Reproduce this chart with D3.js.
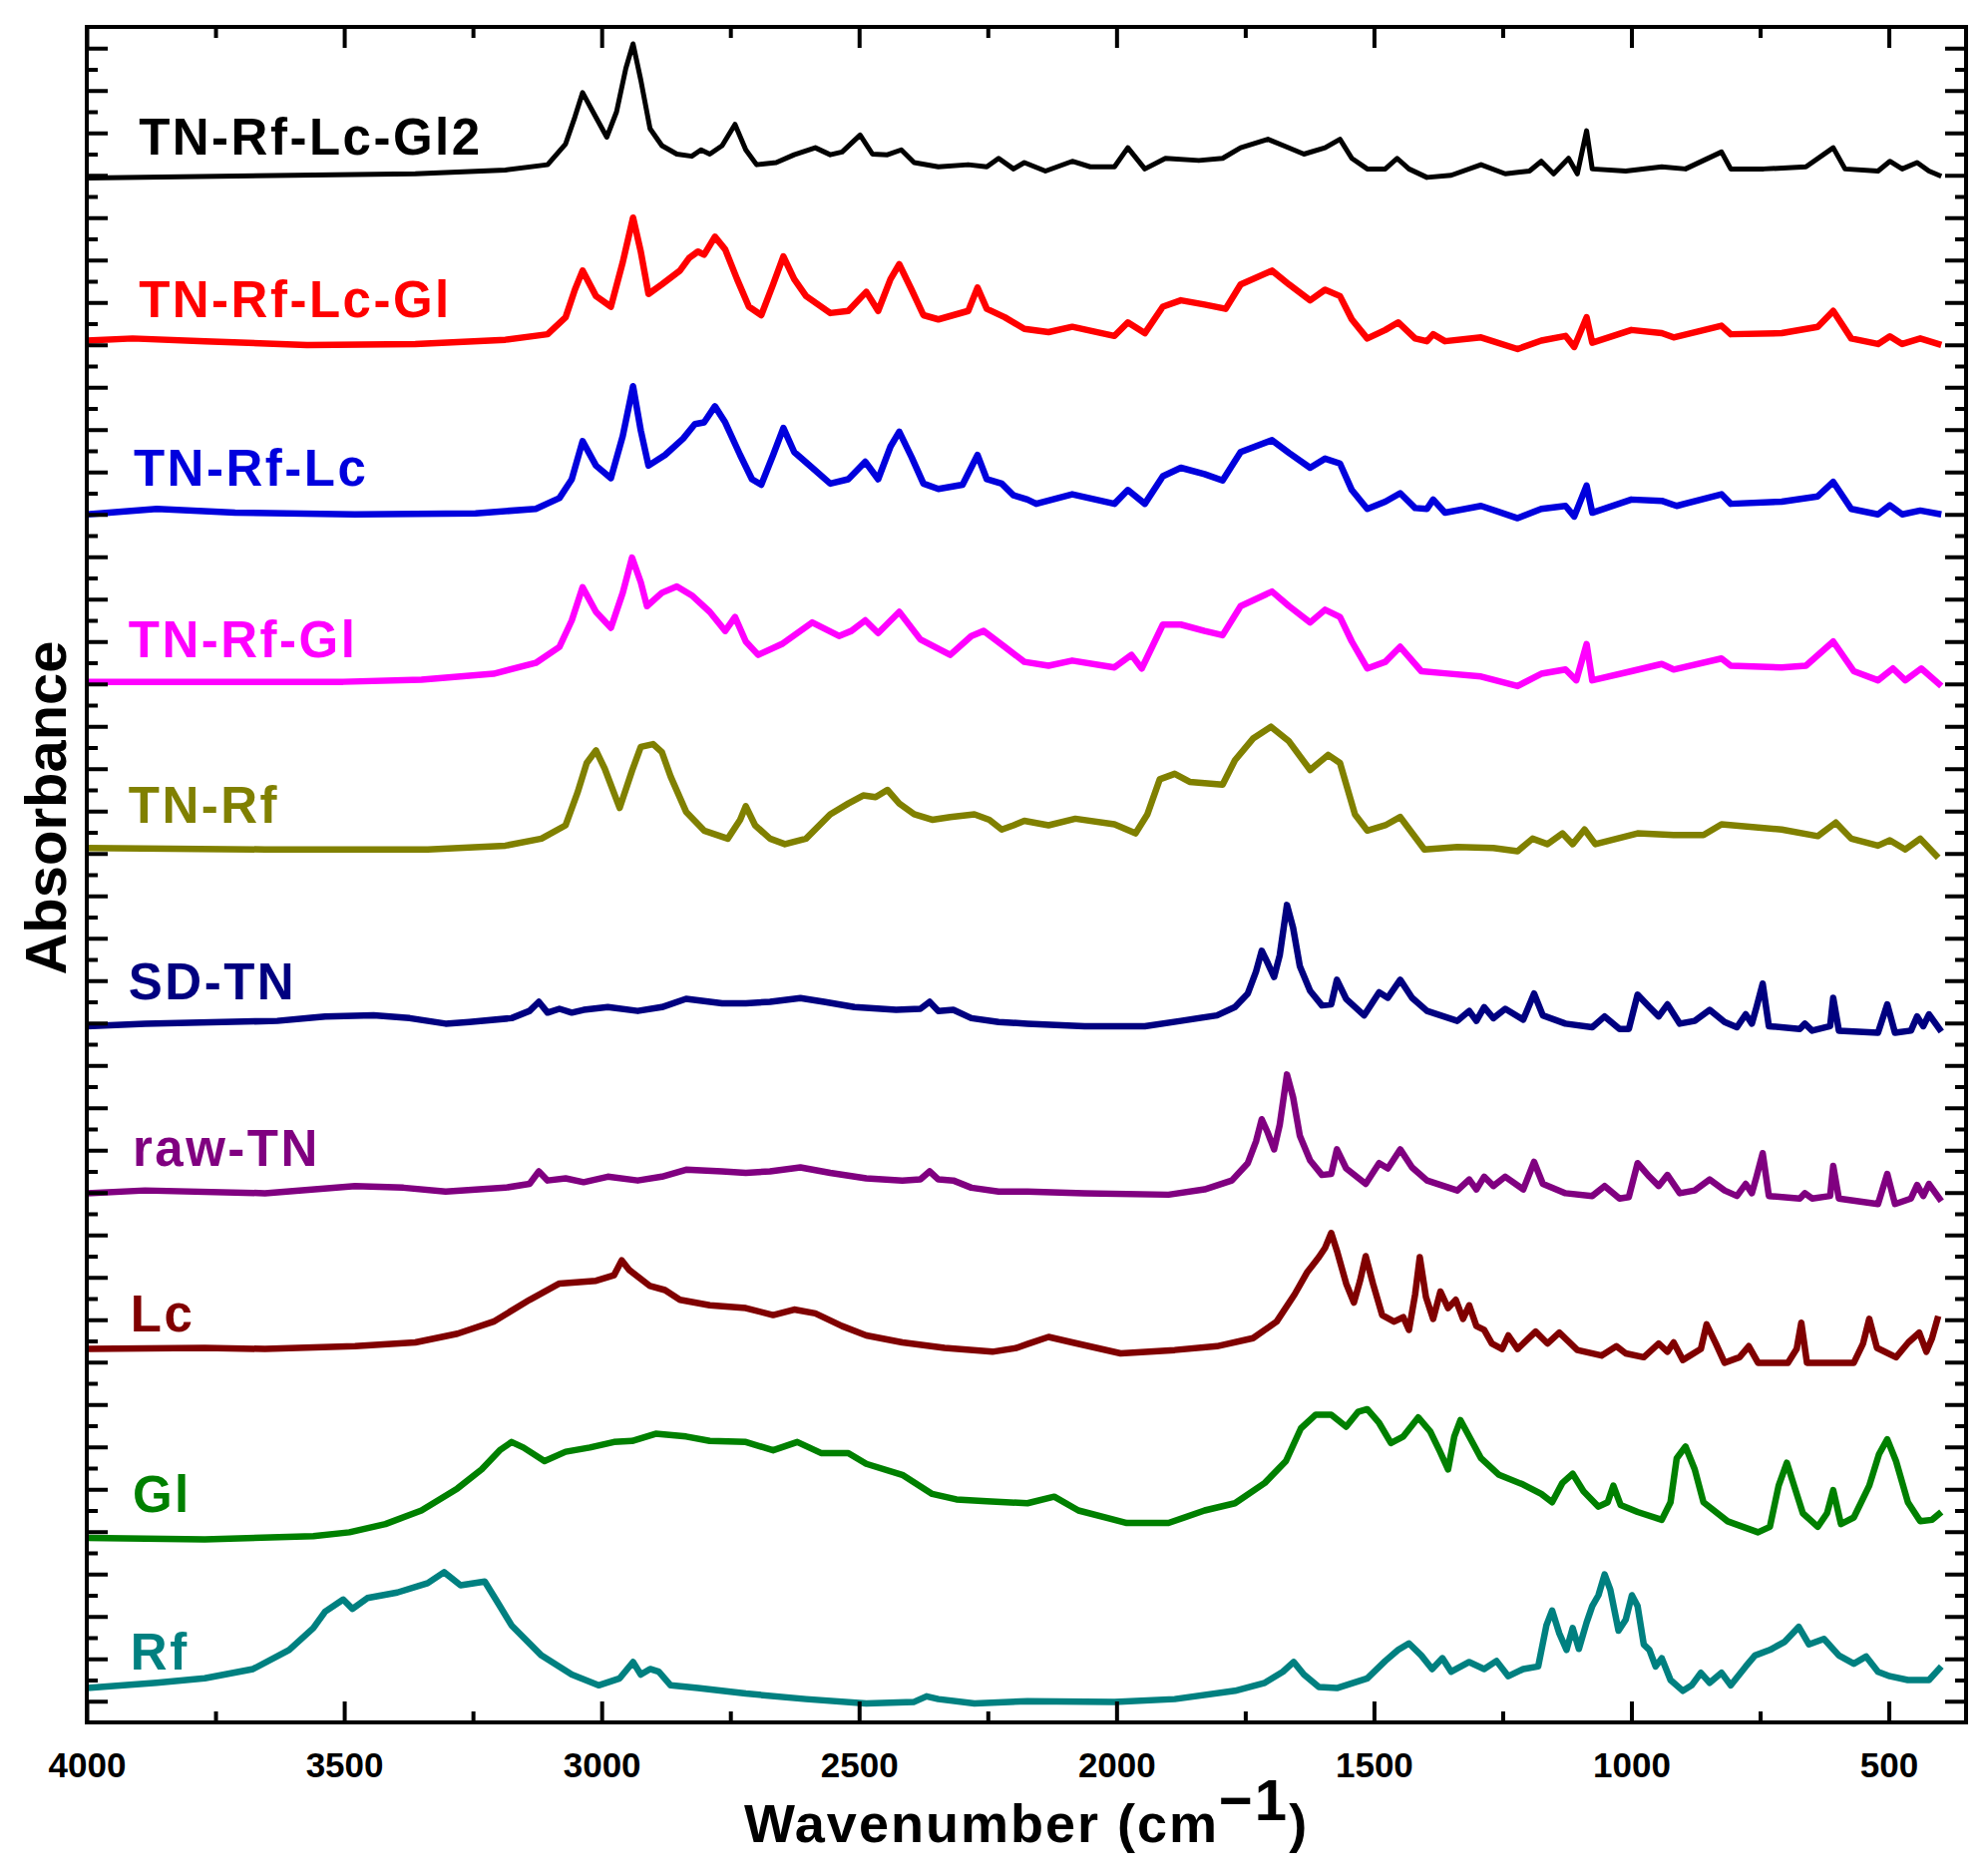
<!DOCTYPE html>
<html>
<head>
<meta charset="utf-8">
<script src="https://cdn.jsdelivr.net/npm/d3@7/dist/d3.min.js"></script>
<style>
  body { margin: 0; background: #fff; }
  text { font-family: "Liberation Sans", Arial, sans-serif; }
</style>
</head>
<body>
<div id="chart-container"></div>
<script>
// Spectra: [wavenumber, absorbance incl. stack offset]

const tnRfLcGl2 = [
  [4000,72.87],[3362,73.07],[3187,73.25],[3105,73.5],[3070,74.48],[3052,75.75],[3037,76.9],[3017,76.0],
  [2990,74.8],[2971,76.0],[2953,78.05],[2939,79.2],[2924,77.5],[2906,75.2],[2883,74.4],[2854,74.0],
  [2825,73.9],[2807,74.2],[2790,74.0],[2766,74.4],[2741,75.4],[2720,74.2],[2699,73.5],[2661,73.6],
  [2626,73.97],[2585,74.3],[2556,73.97],[2533,74.1],[2498,74.9],[2474,74.0],[2445,73.97],[2418,74.2],
  [2393,73.6],[2346,73.4],[2288,73.5],[2252,73.4],[2229,73.8],[2200,73.3],[2179,73.6],[2138,73.2],
  [2086,73.66],[2051,73.4],[2004,73.4],[1978,74.3],[1945,73.3],[1905,73.8],[1840,73.7],[1794,73.8],
  [1759,74.3],[1706,74.7],[1671,74.35],[1636,74.0],[1595,74.3],[1566,74.7],[1543,73.8],[1513,73.3],
  [1478,73.3],[1455,73.8],[1432,73.3],[1397,72.9],[1350,73.0],[1292,73.5],[1245,73.07],[1198,73.2],
  [1175,73.66],[1151,73.07],[1122,73.8],[1105,73.07],[1087,75.1],[1076,73.3],[1011,73.2],[941,73.4],
  [895,73.3],[825,74.1],[807,73.3],[743,73.3],[661,73.4],[608,74.3],[585,73.3],[521,73.2],
  [498,73.66],[474,73.3],[445,73.6],[422,73.2],[398,72.95]
];

const tnRfLcGl = [
  [4000,65.2],[3911,65.3],[3770,65.17],[3572,64.99],[3362,65.04],[3187,65.24],[3105,65.5],[3070,66.3],
  [3052,67.6],[3037,68.5],[3011,67.3],[2982,66.8],[2959,68.9],[2939,71.0],[2924,69.4],[2909,67.4],
  [2883,67.85],[2848,68.5],[2830,69.1],[2813,69.4],[2801,69.25],[2780,70.1],[2760,69.5],[2737,68.1],
  [2714,66.8],[2690,66.4],[2667,67.85],[2647,69.17],[2626,68.1],[2603,67.3],[2556,66.5],[2521,66.6],
  [2486,67.5],[2463,66.6],[2439,68.1],[2422,68.8],[2398,67.6],[2375,66.4],[2346,66.2],[2317,66.4],
  [2288,66.6],[2270,67.7],[2252,66.7],[2217,66.3],[2179,65.75],[2132,65.6],[2086,65.85],[2004,65.42],
  [1978,66.06],[1945,65.55],[1910,66.8],[1875,67.1],[1829,66.9],[1788,66.7],[1759,67.85],[1698,68.5],
  [1665,67.85],[1624,67.1],[1595,67.6],[1566,67.3],[1543,66.2],[1513,65.3],[1478,65.7],[1453,66.06],
  [1420,65.3],[1397,65.17],[1385,65.5],[1362,65.17],[1292,65.35],[1221,64.8],[1175,65.2],[1128,65.42],
  [1111,64.9],[1087,66.3],[1076,65.1],[1000,65.7],[941,65.55],[918,65.35],[825,65.9],[807,65.5],
  [708,65.55],[638,65.85],[608,66.6],[573,65.3],[521,65.04],[498,65.4],[474,65.04],[439,65.3],[398,64.99]
];

const tnRfLc = [
  [4000,57.0],[3864,57.26],[3712,57.08],[3479,57.0],[3245,57.05],[3128,57.26],[3082,57.77],[3058,58.66],
  [3037,60.45],[3011,59.3],[2982,58.71],[2959,60.7],[2939,63.05],[2924,60.96],[2909,59.3],[2877,59.8],
  [2842,60.57],[2819,61.26],[2801,61.34],[2780,62.1],[2760,61.34],[2731,59.8],[2708,58.66],[2690,58.4],
  [2667,59.8],[2647,61.08],[2626,59.94],[2591,59.2],[2556,58.45],[2521,58.66],[2488,59.48],[2463,58.66],
  [2439,60.2],[2422,60.9],[2398,59.7],[2375,58.45],[2346,58.2],[2299,58.4],[2270,59.8],[2252,58.66],
  [2223,58.45],[2200,57.9],[2173,57.7],[2156,57.5],[2086,57.95],[2004,57.5],[1978,58.15],[1945,57.5],
  [1910,58.8],[1875,59.2],[1829,58.9],[1794,58.6],[1759,59.94],[1698,60.5],[1665,59.9],[1624,59.2],
  [1595,59.63],[1566,59.4],[1543,58.15],[1513,57.26],[1478,57.6],[1449,58.0],[1420,57.3],[1397,57.26],
  [1385,57.7],[1362,57.08],[1292,57.4],[1221,56.82],[1175,57.26],[1128,57.4],[1111,56.9],[1087,58.36],
  [1076,57.08],[1000,57.7],[941,57.64],[912,57.4],[825,57.95],[807,57.5],[708,57.6],[638,57.85],
  [608,58.53],[573,57.26],[521,57.0],[498,57.43],[474,57.0],[439,57.18],[398,57.0]
];

const tnRfGl = [
  [4000,49.1],[3771,49.1],[3502,49.1],[3350,49.2],[3210,49.48],[3128,49.99],[3082,50.75],[3058,52.0],
  [3037,53.56],[3011,52.4],[2982,51.65],[2959,53.3],[2941,54.96],[2924,53.8],[2912,52.67],[2883,53.3],
  [2854,53.6],[2825,53.18],[2790,52.4],[2760,51.5],[2741,52.16],[2720,51.0],[2696,50.37],[2650,50.88],
  [2591,51.9],[2539,51.26],[2515,51.5],[2488,52.0],[2463,51.4],[2422,52.4],[2381,51.1],[2323,50.37],
  [2282,51.26],[2258,51.5],[2217,50.75],[2179,50.04],[2132,49.86],[2086,50.1],[2004,49.78],[1971,50.37],
  [1951,49.73],[1910,51.8],[1875,51.8],[1829,51.5],[1794,51.3],[1759,52.67],[1698,53.36],[1665,52.67],
  [1624,51.9],[1595,52.5],[1566,52.16],[1543,51.0],[1513,49.73],[1478,50.04],[1449,50.75],[1408,49.6],
  [1362,49.5],[1292,49.35],[1221,48.9],[1175,49.48],[1128,49.68],[1107,49.17],[1087,50.88],[1076,49.17],
  [1000,49.6],[941,49.94],[918,49.68],[825,50.2],[807,49.86],[708,49.78],[661,49.86],[608,51.0],
  [568,49.6],[521,49.17],[492,49.73],[468,49.17],[437,49.73],[398,48.9]
];

const tnRf = [
  [4000,41.26],[3654,41.19],[3338,41.19],[3187,41.37],[3117,41.7],[3070,42.33],[3047,43.86],[3029,45.27],
  [3011,45.86],[2994,45.0],[2965,43.15],[2941,44.9],[2924,46.03],[2900,46.16],[2883,45.78],[2866,44.63],
  [2836,42.97],[2801,42.08],[2755,41.7],[2731,42.59],[2720,43.23],[2702,42.33],[2673,41.7],[2644,41.44],
  [2603,41.7],[2556,42.85],[2521,43.36],[2492,43.74],[2468,43.66],[2445,44.0],[2422,43.36],[2393,42.85],
  [2358,42.59],[2323,42.72],[2276,42.85],[2247,42.59],[2223,42.13],[2200,42.33],[2179,42.54],[2132,42.33],
  [2080,42.64],[2004,42.38],[1963,41.95],[1940,42.85],[1916,44.5],[1887,44.76],[1858,44.38],[1794,44.25],
  [1770,45.4],[1735,46.42],[1700,46.98],[1665,46.29],[1624,44.94],[1589,45.65],[1566,45.27],[1537,42.85],
  [1513,42.08],[1478,42.33],[1449,42.72],[1402,41.19],[1338,41.31],[1268,41.26],[1221,41.11],[1192,41.7],
  [1163,41.44],[1134,41.95],[1114,41.44],[1091,42.13],[1070,41.44],[988,41.95],[918,41.87],[860,41.87],
  [825,42.38],[708,42.13],[638,41.82],[603,42.46],[573,41.7],[521,41.37],[498,41.62],[468,41.19],
  [439,41.7],[404,40.8]
];

const sdTn = [
  [4000,32.85],[3887,32.97],[3630,33.1],[3537,33.31],[3443,33.36],[3373,33.23],[3303,32.97],[3257,33.05],
  [3175,33.23],[3140,33.57],[3122,34.0],[3105,33.49],[3082,33.67],[3058,33.49],[3035,33.62],[2988,33.75],
  [2930,33.57],[2883,33.75],[2836,34.14],[2766,33.93],[2720,33.93],[2673,34.0],[2614,34.18],[2568,34.0],
  [2509,33.75],[2428,33.62],[2381,33.67],[2363,34.0],[2346,33.57],[2317,33.62],[2282,33.23],[2229,33.05],
  [2173,32.97],[2062,32.85],[1945,32.85],[1875,33.1],[1805,33.36],[1770,33.75],[1745,34.39],[1729,35.43],
  [1718,36.41],[1706,35.81],[1694,35.17],[1683,36.2],[1669,38.57],[1657,37.49],[1644,35.68],[1624,34.52],
  [1601,33.83],[1583,33.88],[1572,35.04],[1554,34.14],[1519,33.36],[1490,34.45],[1473,34.19],[1449,35.04],
  [1426,34.19],[1397,33.57],[1338,33.1],[1315,33.57],[1301,33.1],[1286,33.75],[1268,33.23],[1245,33.67],
  [1210,33.16],[1189,34.39],[1172,33.36],[1128,32.97],[1076,32.8],[1052,33.31],[1023,32.72],[1005,32.72],
  [988,34.34],[965,33.75],[947,33.31],[930,33.88],[906,32.97],[877,33.1],[848,33.62],[819,33.05],
  [795,32.8],[778,33.41],[766,32.97],[757,33.75],[745,34.86],[733,32.85],[673,32.72],[663,32.97],
  [649,32.64],[614,32.85],[608,34.19],[597,32.64],[521,32.54],[503,33.88],[488,32.54],[457,32.64],
  [445,33.31],[433,32.85],[422,33.41],[398,32.59]
];

const rawTn = [
  [4000,24.97],[3887,25.1],[3654,24.97],[3479,25.31],[3385,25.23],[3303,25.05],[3187,25.23],[3140,25.41],
  [3122,26.0],[3105,25.57],[3070,25.67],[3035,25.49],[2988,25.75],[2930,25.57],[2883,25.75],[2836,26.08],
  [2766,26.0],[2720,25.93],[2673,26.0],[2614,26.19],[2556,25.93],[2486,25.67],[2416,25.57],[2381,25.62],
  [2363,26.0],[2346,25.62],[2317,25.57],[2282,25.23],[2229,25.05],[2173,25.05],[2062,24.97],[1899,24.9],
  [1829,25.15],[1776,25.57],[1745,26.39],[1729,27.42],[1718,28.46],[1706,27.81],[1694,27.04],[1683,28.2],
  [1669,30.57],[1657,29.49],[1644,27.68],[1624,26.52],[1601,25.83],[1583,25.88],[1572,27.04],[1554,26.14],
  [1516,25.41],[1490,26.39],[1473,26.14],[1449,27.04],[1426,26.19],[1397,25.57],[1338,25.1],[1315,25.62],
  [1301,25.15],[1286,25.75],[1268,25.31],[1245,25.75],[1210,25.15],[1189,26.45],[1172,25.41],[1128,24.97],
  [1076,24.84],[1052,25.31],[1023,24.72],[1005,24.79],[988,26.39],[965,25.75],[947,25.31],[930,25.83],
  [906,24.97],[877,25.1],[848,25.62],[819,25.1],[795,24.84],[778,25.41],[766,24.97],[757,25.75],
  [745,26.86],[733,24.84],[673,24.72],[663,24.97],[649,24.72],[614,24.84],[608,26.26],[597,24.72],
  [521,24.46],[503,25.88],[488,24.46],[457,24.72],[445,25.36],[433,24.84],[422,25.41],[398,24.59]
];

const lc = [
  [4000,17.62],[3771,17.67],[3654,17.62],[3479,17.75],[3362,17.93],[3280,18.34],[3210,18.91],[3140,19.94],
  [3082,20.71],[3011,20.84],[2976,21.1],[2961,21.8],[2947,21.36],[2906,20.59],[2877,20.4],[2848,19.94],
  [2790,19.68],[2720,19.55],[2667,19.22],[2626,19.48],[2585,19.3],[2533,18.7],[2486,18.26],[2416,17.93],
  [2334,17.67],[2241,17.49],[2194,17.67],[2173,17.85],[2132,18.19],[2086,17.93],[1992,17.41],[1887,17.57],
  [1805,17.75],[1735,18.13],[1689,18.91],[1654,20.2],[1630,21.23],[1607,21.95],[1595,22.39],[1583,23.09],
  [1572,22.26],[1554,20.71],[1539,19.81],[1527,20.84],[1516,22.0],[1502,20.71],[1484,19.22],[1461,18.91],
  [1443,19.12],[1432,18.52],[1420,20.2],[1411,21.95],[1399,20.07],[1385,19.04],[1371,20.33],[1356,19.55],
  [1341,19.94],[1327,19.04],[1315,19.68],[1301,18.7],[1286,18.52],[1271,17.88],[1251,17.62],[1239,18.26],
  [1221,17.62],[1186,18.44],[1163,17.88],[1140,18.39],[1105,17.57],[1058,17.31],[1029,17.75],[1011,17.41],
  [976,17.23],[947,17.88],[930,17.49],[918,17.93],[900,17.1],[865,17.62],[854,18.78],[836,17.88],
  [819,16.97],[790,17.23],[772,17.75],[754,16.97],[696,16.97],[679,17.62],[670,18.86],[659,16.97],
  [568,16.97],[550,17.88],[538,19.04],[523,17.67],[486,17.23],[462,17.93],[441,18.39],[427,17.49],
  [416,18.13],[404,19.17]
];

const gl = [
  [4000,8.71],[3771,8.64],[3560,8.79],[3490,8.97],[3420,9.36],[3350,10.0],[3280,11.04],[3233,11.94],
  [3198,12.84],[3175,13.23],[3152,12.97],[3111,12.33],[3070,12.77],[3023,12.97],[2976,13.23],[2941,13.28],
  [2895,13.62],[2836,13.49],[2790,13.28],[2720,13.23],[2667,12.84],[2620,13.23],[2574,12.71],[2521,12.71],
  [2486,12.2],[2416,11.68],[2358,10.78],[2311,10.52],[2252,10.44],[2173,10.34],[2121,10.65],[2074,10.0],
  [1980,9.41],[1899,9.41],[1829,10.0],[1770,10.34],[1712,11.3],[1671,12.33],[1642,13.87],[1613,14.52],
  [1583,14.52],[1554,13.95],[1531,14.65],[1513,14.78],[1490,14.13],[1467,13.18],[1443,13.49],[1414,14.39],
  [1391,13.74],[1373,12.84],[1356,11.94],[1344,13.49],[1332,14.26],[1315,13.49],[1292,12.46],[1257,11.68],
  [1210,11.22],[1175,10.78],[1154,10.39],[1134,11.3],[1114,11.73],[1093,10.91],[1064,10.18],[1046,10.39],
  [1035,11.17],[1021,10.26],[988,9.93],[941,9.56],[924,10.39],[912,12.46],[895,13.02],[877,11.94],
  [860,10.39],[813,9.49],[754,8.97],[731,9.23],[714,11.17],[698,12.25],[684,11.17],[667,9.87],
  [638,9.23],[620,9.87],[608,10.96],[593,9.36],[568,9.67],[538,11.17],[519,12.66],[503,13.36],
  [486,12.33],[463,10.39],[439,9.49],[416,9.56],[398,9.93]
];

const rf = [
  [4000,1.62],[3864,1.87],[3771,2.08],[3677,2.52],[3607,3.42],[3560,4.45],[3537,5.23],[3502,5.8],
  [3484,5.36],[3455,5.87],[3397,6.13],[3338,6.57],[3306,7.09],[3274,6.47],[3227,6.65],[3204,5.74],
  [3175,4.58],[3117,3.16],[3058,2.26],[3006,1.75],[2965,2.08],[2939,2.85],[2924,2.26],[2906,2.52],
  [2889,2.39],[2866,1.75],[2813,1.62],[2720,1.36],[2603,1.1],[2486,0.89],[2393,0.97],[2369,1.23],
  [2346,1.1],[2276,0.89],[2173,1.0],[2004,0.97],[1887,1.1],[1770,1.49],[1712,1.87],[1677,2.39],
  [1656,2.85],[1636,2.26],[1607,1.67],[1572,1.62],[1513,2.08],[1478,2.9],[1453,3.42],[1432,3.73],
  [1408,3.16],[1387,2.52],[1367,3.03],[1350,2.39],[1315,2.85],[1286,2.52],[1262,2.9],[1239,2.18],
  [1210,2.52],[1181,2.64],[1165,4.58],[1154,5.28],[1140,4.2],[1126,3.42],[1114,4.45],[1102,3.47],
  [1087,4.71],[1076,5.49],[1064,6.0],[1052,6.98],[1041,6.26],[1025,4.33],[1011,4.85],[999,6.0],
  [988,5.49],[976,3.68],[965,3.42],[953,2.64],[941,3.03],[924,2.0],[900,1.49],[883,1.75],
  [865,2.34],[848,1.87],[825,2.34],[807,1.75],[778,2.64],[760,3.16],[731,3.42],[702,3.81],
  [675,4.51],[655,3.68],[626,3.94],[597,3.16],[568,2.77],[544,3.11],[521,2.39],[498,2.18],
  [463,2.0],[422,2.0],[398,2.64]
];

const seriesData = [tnRfLcGl2, tnRfLcGl, tnRfLc, tnRfGl, tnRf, sdTn, rawTn, lc, gl, rf];
const seriesNames = ["TN-Rf-Lc-Gl2", "TN-Rf-Lc-Gl", "TN-Rf-Lc", "TN-Rf-Gl", "TN-Rf", "SD-TN", "raw-TN", "Lc", "Gl", "Rf"];
const seriesColors = ["#000000", "#ff0000", "#0000dd", "#ff00ff", "#808000", "#000080", "#800080", "#800000", "#008000", "#008080"];

// label anchor (wavenumber, absorbance) for each curve name
const labelX = [3899, 3899, 3909, 3919, 3919, 3919, 3911, 3915, 3911, 3915];
const labelY = [73.98, 66.31, 58.35, 50.26, 42.45, 34.12, 26.26, 18.45, 9.93, 2.49];

const xMajor = [4000, 3500, 3000, 2500, 2000, 1500, 1000, 500];
const xMinor = [3750, 3250, 2750, 2250, 1750, 1250, 750];
const yMajor = d3.range(1, 80, 2);
const yMinor = d3.range(2, 80, 2);

//

const margin = { top: 27, right: 22, bottom: 154, left: 87 };
const width = 1993 - margin.left - margin.right;
const height = 1881 - margin.top - margin.bottom;

const x = d3.scaleLinear()
  .domain([4000, 350])
  .range([0, width]);

const y = d3.scaleLinear()
  .domain([0, 80])
  .range([height, 0]);

const svg = d3.select("#chart-container")
  .append("svg")
    .attr("width", width + margin.left + margin.right)
    .attr("height", height + margin.top + margin.bottom)
  .append("g")
    .attr("transform", `translate(${margin.left},${margin.top})`);

// spectra

const line = d3.line()
  .x(d => x(d[0]))
  .y(d => y(d[1]));

seriesData.forEach((data, i) => {
  svg.append("path")
    .datum(data)
    .attr("fill", "none")
    .attr("stroke", seriesColors[i])
    .attr("stroke-width", i === 0 ? 5 : 6.5)
    .attr("stroke-linejoin", "round")
    .attr("d", line);

  svg.append("text")
    .attr("x", x(labelX[i]))
    .attr("y", y(labelY[i]))
    .attr("fill", seriesColors[i])
    .attr("font-size", 51)
    .attr("font-weight", "bold")
    .attr("letter-spacing", "2.5px")
    .text(seriesNames[i]);
});

// axes, all ticks pointing inward

function styleAxis(g) {
  g.select(".domain").remove();
  g.selectAll(".tick line").attr("stroke", "#000").attr("stroke-width", 4);
}

svg.append("g")
  .attr("transform", `translate(0,${height})`)
  .call(d3.axisBottom(x).tickValues(xMajor).tickSize(-21).tickPadding(30).tickFormat(d3.format("d")))
  .call(styleAxis)
  .call(g => g.selectAll("text")
    .attr("fill", "#000")
    .attr("font-size", 35)
    .attr("font-weight", "bold")
    .attr("font-family", "Liberation Sans, Arial, sans-serif"));

svg.append("g")
  .attr("transform", `translate(0,${height})`)
  .call(d3.axisBottom(x).tickValues(xMinor).tickSize(-11).tickFormat(""))
  .call(styleAxis);

svg.append("g")
  .call(d3.axisTop(x).tickValues(xMajor).tickSize(-21).tickFormat(""))
  .call(styleAxis);

svg.append("g")
  .call(d3.axisTop(x).tickValues(xMinor).tickSize(-11).tickFormat(""))
  .call(styleAxis);

svg.append("g")
  .call(d3.axisLeft(y).tickValues(yMajor).tickSize(-21).tickFormat(""))
  .call(styleAxis);

svg.append("g")
  .call(d3.axisLeft(y).tickValues(yMinor).tickSize(-11).tickFormat(""))
  .call(styleAxis);

svg.append("g")
  .attr("transform", `translate(${width},0)`)
  .call(d3.axisRight(y).tickValues(yMajor).tickSize(-21).tickFormat(""))
  .call(styleAxis);

svg.append("g")
  .attr("transform", `translate(${width},0)`)
  .call(d3.axisRight(y).tickValues(yMinor).tickSize(-11).tickFormat(""))
  .call(styleAxis);

svg.append("rect")
  .attr("width", width)
  .attr("height", height)
  .attr("fill", "none")
  .attr("stroke", "#000")
  .attr("stroke-width", 4);

// titles

const xTitle = svg.append("text")
  .attr("x", width / 2)
  .attr("y", height + 120)
  .attr("text-anchor", "middle")
  .attr("font-size", 54)
  .attr("font-weight", "bold")
  .attr("letter-spacing", "2px");

xTitle.append("tspan").text("Wavenumber (cm");
xTitle.append("tspan").attr("dy", -22).attr("font-size", 58).text("\u22121");
xTitle.append("tspan").attr("dy", 22).text(")");

svg.append("text")
  .attr("transform", `translate(-21,783) rotate(-90)`)
  .attr("text-anchor", "middle")
  .attr("font-size", 58)
  .attr("font-weight", "bold")
  .text("Absorbance");
</script>
</body>
</html>
